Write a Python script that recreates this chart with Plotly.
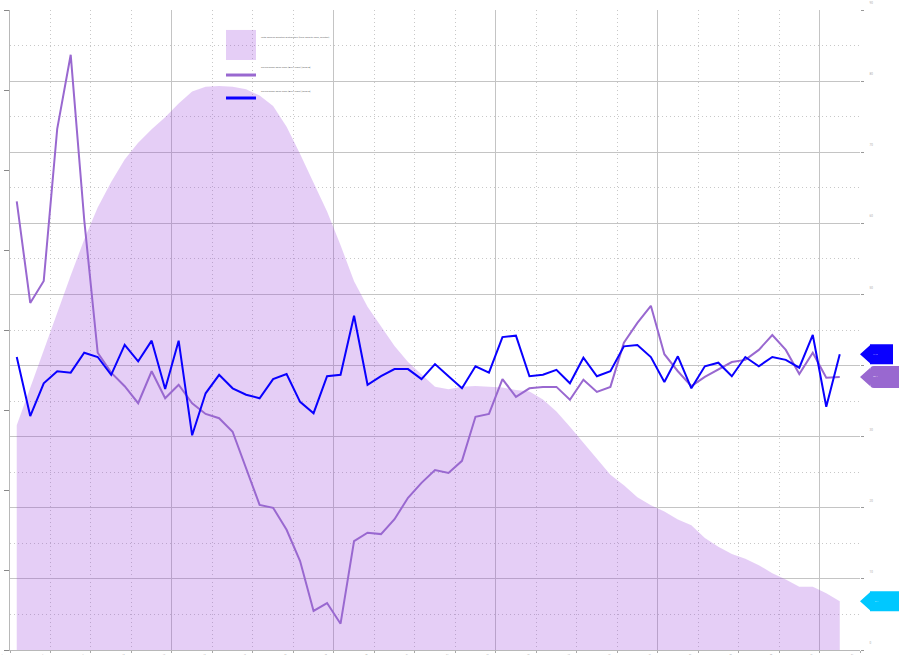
import plotly.graph_objects as go

# x positions (one point per period)
periods = list(range(1, 63))

# filled distribution (left axis)
volume = [28.1, 32.8, 37.3, 42.0, 46.8, 51.3, 55.3, 58.5, 61.3, 63.4,
          65.1, 66.6, 68.3, 69.8, 70.4, 70.5, 70.4, 70.1, 69.3, 68.0,
          65.4, 62.0, 58.5, 54.8, 50.6, 46.1, 42.9, 40.4, 38.0, 36.0,
          34.4, 32.9, 32.6, 32.9, 33.0, 32.9, 32.8, 32.5, 32.3, 31.3,
          29.8, 27.9, 25.9, 23.8, 21.9, 20.6, 19.1, 18.1, 17.3, 16.3,
          15.6, 14.0, 12.9, 12.0, 11.4, 10.6, 9.6, 8.8, 7.9, 7.9,
          7.1, 6.1]

# purple line (right axis)
series_a = [63.1, 48.8, 51.9, 73.3, 83.7, 60.5, 41.8, 39.0, 37.1, 34.7,
            39.2, 35.4, 37.3, 34.7, 33.2, 32.6, 30.7, 25.5, 20.4, 20.0,
            16.9, 12.5, 5.5, 6.6, 3.7, 15.3, 16.5, 16.3, 18.4, 21.4,
            23.5, 25.3, 24.9, 26.6, 32.8, 33.2, 38.1, 35.6, 36.8, 37.0,
            37.0, 35.2, 38.0, 36.3, 37.0, 43.2, 46.0, 48.4, 41.6, 39.2,
            37.1, 38.4, 39.5, 40.5, 40.8, 42.2, 44.3, 42.2, 38.8, 41.8,
            38.3, 38.4]

# blue line (right axis)
series_b = [41.2, 32.9, 37.5, 39.2, 39.0, 41.8, 41.2, 38.7, 42.9, 40.6,
            43.5, 36.7, 43.5, 30.2, 36.1, 38.7, 36.8, 35.9, 35.4, 38.1,
            38.8, 34.9, 33.3, 38.5, 38.7, 47.0, 37.3, 38.5, 39.5, 39.5,
            38.1, 40.2, 38.5, 36.8, 39.9, 39.0, 44.0, 44.2, 38.5, 38.7,
            39.4, 37.5, 41.1, 38.5, 39.2, 42.7, 42.9, 41.2, 37.7, 41.3,
            36.8, 39.9, 40.4, 38.5, 41.2, 39.9, 41.2, 40.8, 39.7, 44.3,
            34.2, 41.6]

legend_labels = [
    "Total Session Duration Distribution (from 2020 to 2023, minutes)",
    "Rolling Mean Sales 2022 (Avg 7 days) [Shop A]",
    "Rolling Mean Sales 2022 (Avg 7 days) [Shop B]",
]

AREA = "rgba(150, 60, 220, 0.25)"
PURPLE = "rgb(153, 104, 208)"
BLUE = "rgb(10, 0, 255)"
CYAN = "rgb(0, 200, 255)"
GRID = "#c4c4c4"
DOTS = "#c8c8c8"

fig = go.Figure()

fig.add_trace(go.Scatter(x=periods, y=volume, mode="lines", fill="tozeroy",
                         fillcolor=AREA, line=dict(width=0, color=AREA),
                         name=legend_labels[0], hoverinfo="y"))
fig.add_trace(go.Scatter(x=periods, y=series_a, mode="lines", xaxis="x2", yaxis="y2",
                         line=dict(color=PURPLE, width=2), name=legend_labels[1]))
fig.add_trace(go.Scatter(x=periods, y=series_b, mode="lines", xaxis="x2", yaxis="y2",
                         line=dict(color=BLUE, width=2), name=legend_labels[2]))

# hand-made legend, top middle
lx0, lx1 = 0.2541, 0.2894
shapes = [
    dict(type="rect", xref="paper", yref="paper", x0=lx0, x1=lx1, y0=0.9219, y1=0.9688,
         fillcolor=AREA, line=dict(width=0)),
    dict(type="line", xref="paper", yref="paper", x0=lx0, x1=lx1, y0=0.8984, y1=0.8984,
         line=dict(color=PURPLE, width=3)),
    dict(type="line", xref="paper", yref="paper", x0=lx0, x1=lx1, y0=0.8625, y1=0.8625,
         line=dict(color=BLUE, width=3)),
]
annotations = []
for lbl, ly in zip(legend_labels, [0.9578, 0.9109, 0.8734]):
    annotations.append(dict(xref="paper", yref="paper", x=lx1 + 0.003, y=ly, text=lbl,
                            showarrow=False, xanchor="left", yanchor="middle",
                            font=dict(size=2.4, color="#666")))

# price flags on the right edge, anchored at last values
flag = "M0,0 L10,9 L10,10 L33,10 L33,-10 L10,-10 L10,-9 Z"
round_flag = ("M0,0 L10,9 L10,7 Q10,11 14,11 L40,11 L40,-11 L14,-11 "
              "Q10,-11 10,-7 L10,-9 Z")
flag_flat = "M0,0 L10,9 L10,10 L40,10 L40,-10 L10,-10 L10,-9 Z"
for path, color, yref, val in [(flag, BLUE, "y2", series_b[-1]),
                               (round_flag, PURPLE, "y2", series_a[-1]),
                               (flag_flat, CYAN, "y", volume[-1])]:
    shapes.append(dict(type="path", xref="paper", yref=yref, xsizemode="pixel",
                       ysizemode="pixel", xanchor=1, yanchor=val, path=path,
                       fillcolor=color, line=dict(width=0), layer="above"))
    annotations.append(dict(xref="paper", yref=yref, x=1, y=val, xshift=20,
                            text=f"{val:.1f}", showarrow=False,
                            font=dict(size=2.4, color="rgba(255,255,255,0.8)")))

fig.update_layout(
    width=899, height=655,
    margin=dict(l=10, r=39, t=10, b=5, autoexpand=False),
    paper_bgcolor="white", plot_bgcolor="white",
    font=dict(family="Roboto"),
    showlegend=False,
    shapes=shapes, annotations=annotations,
    xaxis=dict(range=[0.5, 63.5], tick0=0.5, dtick=3, tickformat=".0f",
               showgrid=True, gridcolor=DOTS, griddash="1px,3px", gridwidth=1,
               ticks="outside", ticklen=2, tickcolor="#aaa", automargin=False,
               showline=True, linecolor="#b8b8b8", zeroline=False,
               ticklabelstandoff=0, ticklabelshift=-8,
               tickfont=dict(size=2, color="#aaa")),
    xaxis2=dict(overlaying="x", range=[0.5, 63.5], tick0=0.5, dtick=12,
                showgrid=True, gridcolor=GRID, showticklabels=False,
                ticks="", zeroline=False, automargin=False),
    yaxis=dict(range=[0, 80], dtick=10, showgrid=False, zeroline=False,
               ticks="outside", ticklen=5, tickcolor="#888", automargin=False,
               showline=True, linecolor="#b8b8b8", showticklabels=False),
    yaxis2=dict(overlaying="y", side="right", range=[0, 90], dtick=10,
                showgrid=True, gridcolor=GRID, automargin=False,
                minor=dict(dtick=5, showgrid=True, gridcolor=DOTS, griddash="1px,3px"),
                ticks="outside", ticklen=3, tickcolor="#999",
                tickfont=dict(size=3, color="#aaa"), ticklabelshift=-7,
                ticklabelstandoff=5, zeroline=False, showline=False),
)

# drop the page's default body margin so the figure fills the window exactly
fig.write_html("out.html", config={"displayModeBar": False},
               post_script="document.body.style.margin='0px';"
                           "document.body.style.overflow='hidden';")
